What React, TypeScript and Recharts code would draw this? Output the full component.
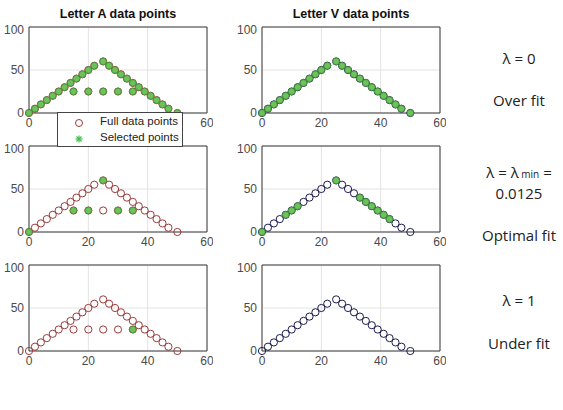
import React from 'react';
import { ScatterChart, Scatter, XAxis, YAxis, CartesianGrid, ReferenceArea } from 'recharts';

// letter shape: two legs of a triangle
const legX = [0, 2, 4, 6, 8, 10, 12, 14, 16, 18, 20, 22, 25, 27, 29, 31, 33, 35, 37, 39, 41, 43, 45, 47, 50];
const legY = [0, 5, 10, 15, 20, 25, 30, 35, 40, 45, 50, 55, 60, 55, 50, 45, 40, 35, 30, 25, 20, 15, 10, 5, 0];
// crossbar of the letter A
const barX = [15, 20, 25, 30, 35];
const barY = [25, 25, 25, 25, 25];

// selected points per lambda
const selA2X = [0, 25, 15, 20, 30, 35];
const selA2Y = [0, 60, 25, 25, 25, 25];
const selV2X = [0, 8, 10, 12, 25, 33, 35, 37, 39, 41, 43];
const selV2Y = [0, 20, 25, 30, 60, 40, 35, 30, 25, 20, 15];
const selA3X = [35];
const selA3Y = [25];

const xTicks = [0, 20, 40, 60];
const yTicks = [0, 50, 100];

const lambdaLabels = ['λ  = 0', 'λ  = λ', '0.0125', 'λ  = 1'];
const fitLabels = ['Over fit', 'Optimal fit', 'Under fit'];

const zip = (xs: number[], ys: number[]) => xs.map((x, i) => ({ x, y: ys[i] }));

const pointsA = [...zip(legX, legY), ...zip(barX, barY)];
const pointsV = zip(legX, legY);

const RED = '#9b3b3b';
const NAVY = '#1d1d4e';
const GREEN = '#6cc35a';
const GREEN_EDGE = '#3e8f35';
const FONT = '"Liberation Sans", Arial, sans-serif';

const hollow = (color: string) => (props: any) => (
    <circle cx={props.cx} cy={props.cy} r={3.6} fill="none" stroke={color} strokeWidth={1} />
);
const filled = (props: any) => (
    <circle cx={props.cx} cy={props.cy} r={3.3} fill={GREEN} stroke={GREEN_EDGE} strokeWidth={0.8} />
);

const PLOT_W = 178;
const PLOT_H = 86;

function Panel({ left, top, full, color, selected, hideMidTicks }: {
    left: number; top: number; full: { x: number; y: number }[]; color: string;
    selected: { x: number; y: number }[]; hideMidTicks?: boolean;
}) {
    return (
        <div style={{ position: 'absolute', left: left - 29, top: top - 5 }}>
            <ScatterChart width={29 + PLOT_W + 6} height={5 + PLOT_H + 22} margin={{ top: 5, right: 6, bottom: 0, left: 0 }}>
                <CartesianGrid stroke="#e3e3e3" />
                <XAxis
                    type="number"
                    dataKey="x"
                    domain={[0, 60]}
                    ticks={xTicks}
                    tickSize={0}
                    tickMargin={5}
                    axisLine={false}
                    height={22}
                    // the legend covers the middle labels of the first panel
                    tickFormatter={(v: number) => (hideMidTicks && v > 0 && v < 60 ? '' : String(v))}
                    tick={{ fill: '#4a4a4a', fontSize: 12, fontFamily: FONT }}
                />
                <YAxis
                    type="number"
                    dataKey="y"
                    domain={[0, 100]}
                    ticks={yTicks}
                    tickSize={0}
                    tickMargin={5}
                    axisLine={false}
                    width={29}
                    tick={{ fill: '#4a4a4a', fontSize: 12, fontFamily: FONT }}
                />
                <ReferenceArea x1={0} x2={60} y1={0} y2={100} fill="none" stroke="#3a3a3a" strokeWidth={1} />
                <Scatter data={full} shape={hollow(color)} isAnimationActive={false} />
                <Scatter data={selected} shape={filled} isAnimationActive={false} />
            </ScatterChart>
        </div>
    );
}

const textStyle: React.CSSProperties = {
    position: 'absolute',
    width: 110,
    left: 464,
    textAlign: 'center',
    fontFamily: '"Open Sans", sans-serif',
    fontSize: 15,
    color: '#222',
    lineHeight: '20px',
};

export default function App() {
    const colA = 29;
    const colV = 262;
    const rows = [27, 146, 265];
    return (
        <div style={{ position: 'absolute', left: 0, top: 0, width: 563, height: 410, background: '#fff', overflow: 'hidden' }}>
            <div style={{ position: 'absolute', left: colA, width: PLOT_W, top: 7, textAlign: 'center', fontFamily: FONT, fontWeight: 'bold', fontSize: 12.5, color: '#111' }}>
                Letter A data points
            </div>
            <div style={{ position: 'absolute', left: colV, width: PLOT_W, top: 7, textAlign: 'center', fontFamily: FONT, fontWeight: 'bold', fontSize: 12.5, color: '#111' }}>
                Letter V data points
            </div>

            <Panel left={colA} top={rows[0]} full={pointsA} color={RED} selected={pointsA} hideMidTicks />
            <Panel left={colV} top={rows[0]} full={pointsV} color={NAVY} selected={pointsV} />
            <Panel left={colA} top={rows[1]} full={pointsA} color={RED} selected={zip(selA2X, selA2Y)} />
            <Panel left={colV} top={rows[1]} full={pointsV} color={NAVY} selected={zip(selV2X, selV2Y)} />
            <Panel left={colA} top={rows[2]} full={pointsA} color={RED} selected={zip(selA3X, selA3Y)} />
            <Panel left={colV} top={rows[2]} full={pointsV} color={NAVY} selected={[]} />

            {/* legend overlapping first column */}
            <div style={{ position: 'absolute', left: 57, top: 112, width: 124, height: 33, background: '#fff', border: '1px solid #444', fontFamily: FONT, fontSize: 11.5, color: '#222' }}>
                <svg width={20} height={33} style={{ position: 'absolute', left: 11, top: 0 }}>
                    <circle cx={10} cy={10} r={3.5} fill="none" stroke={RED} strokeWidth={1} />
                    <g stroke="#3fc24a" strokeWidth={1.2}>
                        <line x1={6.5} y1={26} x2={13.5} y2={26} />
                        <line x1={10} y1={22.5} x2={10} y2={29.5} />
                        <line x1={7.5} y1={23.5} x2={12.5} y2={28.5} />
                        <line x1={12.5} y1={23.5} x2={7.5} y2={28.5} />
                    </g>
                </svg>
                <div style={{ position: 'absolute', left: 42, top: 2 }}>Full data points</div>
                <div style={{ position: 'absolute', left: 42, top: 18 }}>Selected points</div>
            </div>

            <div style={{ ...textStyle, top: 48 }}>{lambdaLabels[0]}</div>
            <div style={{ ...textStyle, top: 90 }}>{fitLabels[0]}</div>
            <div style={{ ...textStyle, top: 162 }}>
                {lambdaLabels[1]}<span style={{ fontSize: 10 }}> min</span> =
            </div>
            <div style={{ ...textStyle, top: 183 }}>{lambdaLabels[2]}</div>
            <div style={{ ...textStyle, top: 225 }}>{fitLabels[1]}</div>
            <div style={{ ...textStyle, top: 290 }}>{lambdaLabels[3]}</div>
            <div style={{ ...textStyle, top: 333 }}>{fitLabels[2]}</div>
        </div>
    );
}
